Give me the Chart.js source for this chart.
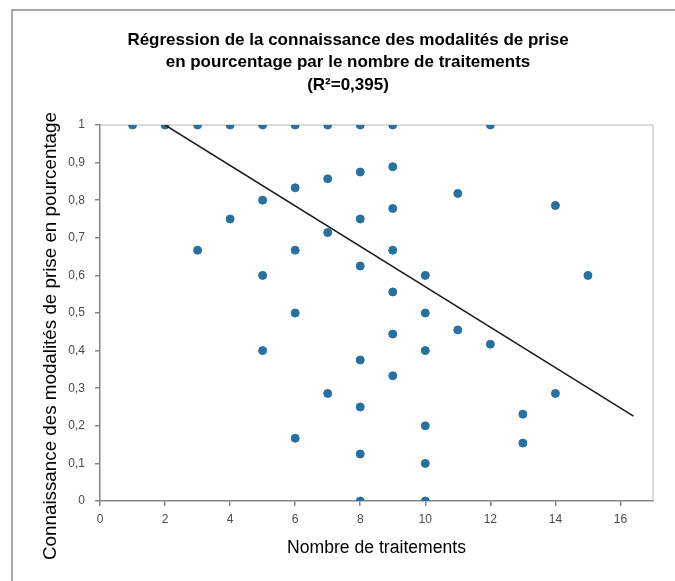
<!DOCTYPE html>
<html>
<head>
<meta charset="utf-8">
<script src="https://cdn.jsdelivr.net/npm/chart.js@4/dist/chart.umd.min.js"></script>
<style>
  html, body { margin: 0; padding: 0; background: #fff; }
  #wrap { width: 675px; height: 581px; position: relative; }
</style>
</head>
<body>
<div id="wrap"><canvas id="regression"></canvas></div>
<script>
// nombre de traitements (x) et connaissance en pourcentage (y)
var traitements = [1, 2, 3, 4, 5, 6, 7, 8, 9, 12,
  3, 4, 5, 5, 5, 6, 6, 6, 6, 7, 7, 7,
  8, 8, 8, 8, 8, 8, 8,
  9, 9, 9, 9, 9, 9,
  10, 10, 10, 10, 10, 10,
  11, 11, 12, 13, 13, 14, 14, 15];
var connaissance = [1, 1, 1, 1, 1, 1, 1, 1, 1, 1,
  0.667, 0.75, 0.8, 0.6, 0.4, 0.833, 0.667, 0.5, 0.167, 0.857, 0.714, 0.286,
  0.875, 0.75, 0.625, 0.375, 0.25, 0.125, 0,
  0.889, 0.778, 0.667, 0.556, 0.444, 0.333,
  0.6, 0.5, 0.4, 0.2, 0.1, 0,
  0.818, 0.455, 0.417, 0.231, 0.154, 0.786, 0.286, 0.6];

// droite de regression (extremites)
var trendX = [2, 16.4];
var trendY = [1, 0.226];

var titre = ["Régression de la connaissance des modalités de prise",
  "en pourcentage par le nombre de traitements",
  "(R²=0,395)"];
var titreY = "Connaissance des modalités de prise en pourcentage";

var points = traitements.map(function (x, i) { return { x: x, y: connaissance[i] }; });
var droite = trendX.map(function (x, i) { return { x: x, y: trendY[i] }; });

var decor = {
  id: 'decor',
  beforeDraw: function (chart) {
    var c = chart.ctx, a = chart.chartArea;
    c.save();
    // cadre exterieur
    c.strokeStyle = '#8c8c8c';
    c.lineWidth = 1.5;
    c.beginPath();
    c.moveTo(12, 581);
    c.lineTo(12, 10);
    c.lineTo(675, 10);
    c.stroke();
    // bord de la zone de tracé
    c.strokeStyle = '#d0d0d0';
    c.lineWidth = 1.5;
    c.beginPath();
    c.moveTo(a.left, a.top);
    c.lineTo(a.right, a.top);
    c.lineTo(a.right, a.bottom);
    c.stroke();
    // titre
    c.fillStyle = '#000';
    c.font = 'bold 17px "Liberation Sans", Arial, sans-serif';
    c.textAlign = 'center';
    c.textBaseline = 'middle';
    titre.forEach(function (t, i) { c.fillText(t, 348, 40 + i * 22.5); });
    // titre de l'axe vertical
    c.translate(51, 336);
    c.rotate(-Math.PI / 2);
    c.font = '18.8px "Liberation Sans", Arial, sans-serif';
    c.fillText(titreY, 0, 0);
    c.restore();
  }
};

var ctx = document.getElementById("regression");
var chart = new Chart(ctx, {
  type: 'scatter',
  data: {
    datasets: [
      {
        data: droite,
        showLine: true,
        borderColor: '#1a1a1a',
        borderWidth: 1.5,
        pointRadius: 0,
        fill: false
      },
      {
        data: points,
        backgroundColor: '#2770a0',
        borderColor: '#2770a0',
        pointRadius: 4,
        pointHoverRadius: 4
      }
    ]
  },
  plugins: [decor],
  options: {
    responsive: true,
    maintainAspectRatio: false,
    animation: false,
    layout: { padding: { top: 125, right: 22, bottom: 0, left: 0 } },
    plugins: {
      legend: { display: false },
      title: { display: false },
      tooltip: { enabled: false }
    },
    scales: {
      x: {
        type: 'linear',
        min: 0,
        max: 17,
        afterFit: function (s) { s.height = 80; },
        ticks: {
          stepSize: 2,
          includeBounds: false,
          color: '#4a4a4a',
          font: { family: '"Liberation Sans", Arial', size: 12 },
          padding: 6,
          maxRotation: 0
        },
        grid: { drawOnChartArea: false, color: '#868686', tickLength: 5, lineWidth: 1.5 },
        border: { color: '#868686', width: 1.5 },
        title: {
          display: true,
          text: 'Nombre de traitements',
          color: '#000',
          font: { family: '"Liberation Sans", Arial', size: 17.6 },
          padding: { top: 0, bottom: 22 }
        }
      },
      y: {
        min: 0,
        max: 1,
        afterFit: function (s) { s.width = 100; },
        ticks: {
          stepSize: 0.1,
          color: '#4a4a4a',
          font: { family: '"Liberation Sans", Arial', size: 12 },
          padding: 10,
          callback: function (v) {
            var r = Math.round(v * 10) / 10;
            return String(r).replace('.', ',');
          }
        },
        grid: { drawOnChartArea: false, color: '#868686', tickLength: 5, lineWidth: 1.5 },
        border: { color: '#868686', width: 1.5 }
      }
    }
  }
});
</script>
</body>
</html>
